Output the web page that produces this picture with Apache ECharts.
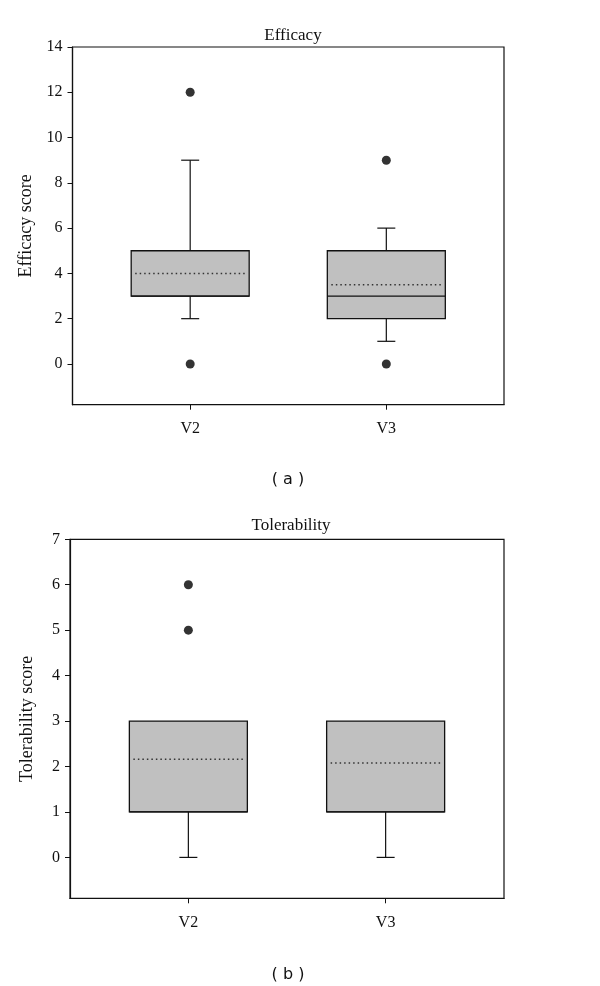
<!DOCTYPE html>
<html>
<head>
<meta charset="utf-8">
<script src="https://cdn.jsdelivr.net/npm/echarts@6/dist/echarts.min.js"></script>
<style>html,body{margin:0;padding:0;background:#fff;}#c{width:600px;height:986px;}</style>
</head>
<body>
<div id="c"></div>
<script>
// ---- data ----
var categories = ['V2', 'V3'];
// [low whisker, Q1, median, Q3, high whisker, mean]
var efficacyBoxes = [
  [2, 3, 3, 5, 9, 4.0],
  [1, 2, 3, 5, 6, 3.5]
];
var efficacyOutliers = [[1, 12], [1, 0], [2, 9], [2, 0]];
var tolerabilityBoxes = [
  [0, 1, 1, 3, 3, 2.16],
  [0, 1, 1, 3, 3, 2.08]
];
var tolerabilityOutliers = [[1, 6], [1, 5]];
var efficacyTicks = [0, 2, 4, 6, 8, 10, 12, 14];
var tolerabilityTicks = [0, 1, 2, 3, 4, 5, 6, 7];
var xTicks = [1, 2];

// ---- build ----
var SERIF = '"Liberation Serif", "DejaVu Serif", serif';
var SANS = '"DejaVu Sans", "Liberation Sans", sans-serif';

function boxData(boxes) {
  return boxes.map(function (b, i) { return [i + 1].concat(b); });
}

function renderBox(params, api) {
  var x = api.value(0);
  var low = api.coord([x, api.value(1)]);
  var q1 = api.coord([x, api.value(2)]);
  var med = api.coord([x, api.value(3)]);
  var q3 = api.coord([x, api.value(4)]);
  var high = api.coord([x, api.value(5)]);
  var mean = api.coord([x, api.value(6)]);
  var cx = q1[0];
  var bw = 118, cw = 18;
  var lineStyle = { stroke: '#111', lineWidth: 1.2, fill: null };
  var children = [];
  if (api.value(1) < api.value(2)) {
    children.push({ type: 'line', shape: { x1: cx, y1: q1[1], x2: cx, y2: low[1] }, style: lineStyle });
    children.push({ type: 'line', shape: { x1: cx - cw / 2, y1: low[1], x2: cx + cw / 2, y2: low[1] }, style: lineStyle });
  }
  if (api.value(5) > api.value(4)) {
    children.push({ type: 'line', shape: { x1: cx, y1: q3[1], x2: cx, y2: high[1] }, style: lineStyle });
    children.push({ type: 'line', shape: { x1: cx - cw / 2, y1: high[1], x2: cx + cw / 2, y2: high[1] }, style: lineStyle });
  }
  children.push({ type: 'rect', shape: { x: cx - bw / 2, y: q3[1], width: bw, height: q1[1] - q3[1] },
    style: { fill: '#c0c0c0', stroke: '#111', lineWidth: 1.3 } });
  children.push({ type: 'line', shape: { x1: cx - bw / 2, y1: med[1], x2: cx + bw / 2, y2: med[1] },
    style: { stroke: '#111', lineWidth: 1.3 } });
  children.push({ type: 'line', shape: { x1: cx - bw / 2 + 4, y1: mean[1], x2: cx + bw / 2 - 2, y2: mean[1] },
    style: { stroke: '#333', lineWidth: 1.5, lineDash: [1.5, 3] } });
  return { type: 'group', children: children };
}

function xAxis(gridIndex) {
  return {
    type: 'value', gridIndex: gridIndex, min: 0.4, max: 2.6,
    axisLine: { show: true, onZero: false, lineStyle: { color: '#111', width: 1.2 } },
    axisTick: { show: true, customValues: xTicks, length: 5, inside: false, lineStyle: { color: '#111' } },
    axisLabel: { customValues: xTicks, margin: 16, color: '#111', fontFamily: SERIF, fontSize: 16,
      formatter: function (v) { return categories[Math.round(v) - 1] || ''; } },
    splitLine: { show: false }
  };
}

function yAxis(gridIndex, min, max, ticks, name, gap) {
  return {
    type: 'value', gridIndex: gridIndex, min: min, max: max,
    name: name, nameLocation: 'middle', nameGap: gap,
    nameTextStyle: { fontFamily: SERIF, fontSize: 18, color: '#111' },
    axisLine: { show: true, onZero: false, lineStyle: { color: '#111', width: 1.2 } },
    axisTick: { show: true, customValues: ticks, length: 5, inside: false, lineStyle: { color: '#111' } },
    axisLabel: { customValues: ticks, margin: 10, color: '#111', fontFamily: SERIF, fontSize: 16 },
    splitLine: { show: false }
  };
}

var option = {
  backgroundColor: '#fff',
  animation: false,
  title: [
    { text: 'Efficacy', left: 288, top: 22, textAlign: 'center',
      textStyle: { fontFamily: SERIF, fontSize: 17, fontWeight: 'normal', color: '#111' } },
    { text: 'Tolerability', left: 286, top: 512, textAlign: 'center',
      textStyle: { fontFamily: SERIF, fontSize: 17, fontWeight: 'normal', color: '#111' } },
    { text: '( a )', left: 283, top: 467, textAlign: 'center',
      textStyle: { fontFamily: SANS, fontSize: 16, fontWeight: 'normal', color: '#111' } },
    { text: '( b )', left: 283, top: 962, textAlign: 'center',
      textStyle: { fontFamily: SANS, fontSize: 16, fontWeight: 'normal', color: '#111' } }
  ],
  grid: [
    { left: 72.5, top: 47, width: 431.5, height: 357.7, show: true, borderColor: '#111', borderWidth: 1.2, backgroundColor: 'transparent' },
    { left: 70, top: 539.3, width: 434, height: 359, show: true, borderColor: '#111', borderWidth: 1.2, backgroundColor: 'transparent' }
  ],
  xAxis: [xAxis(0), xAxis(1)],
  yAxis: [
    yAxis(0, -1.8, 14, efficacyTicks, 'Efficacy score', 36),
    yAxis(1, -0.9, 7, tolerabilityTicks, 'Tolerability score', 34)
  ],
  series: [
    { type: 'custom', xAxisIndex: 0, yAxisIndex: 0, renderItem: renderBox,
      data: boxData(efficacyBoxes), encode: { x: 0, y: [1, 2, 3, 4, 5, 6] }, silent: true },
    { type: 'scatter', xAxisIndex: 0, yAxisIndex: 0, data: efficacyOutliers,
      symbol: 'circle', symbolSize: 9, itemStyle: { color: '#000' }, silent: true },
    { type: 'custom', xAxisIndex: 1, yAxisIndex: 1, renderItem: renderBox,
      data: boxData(tolerabilityBoxes), encode: { x: 0, y: [1, 2, 3, 4, 5, 6] }, silent: true },
    { type: 'scatter', xAxisIndex: 1, yAxisIndex: 1, data: tolerabilityOutliers,
      symbol: 'circle', symbolSize: 9, itemStyle: { color: '#000' }, silent: true }
  ]
};

var chart = echarts.init(document.getElementById('c'), null, { renderer: 'canvas' });
chart.setOption(option);
</script>
</body>
</html>
